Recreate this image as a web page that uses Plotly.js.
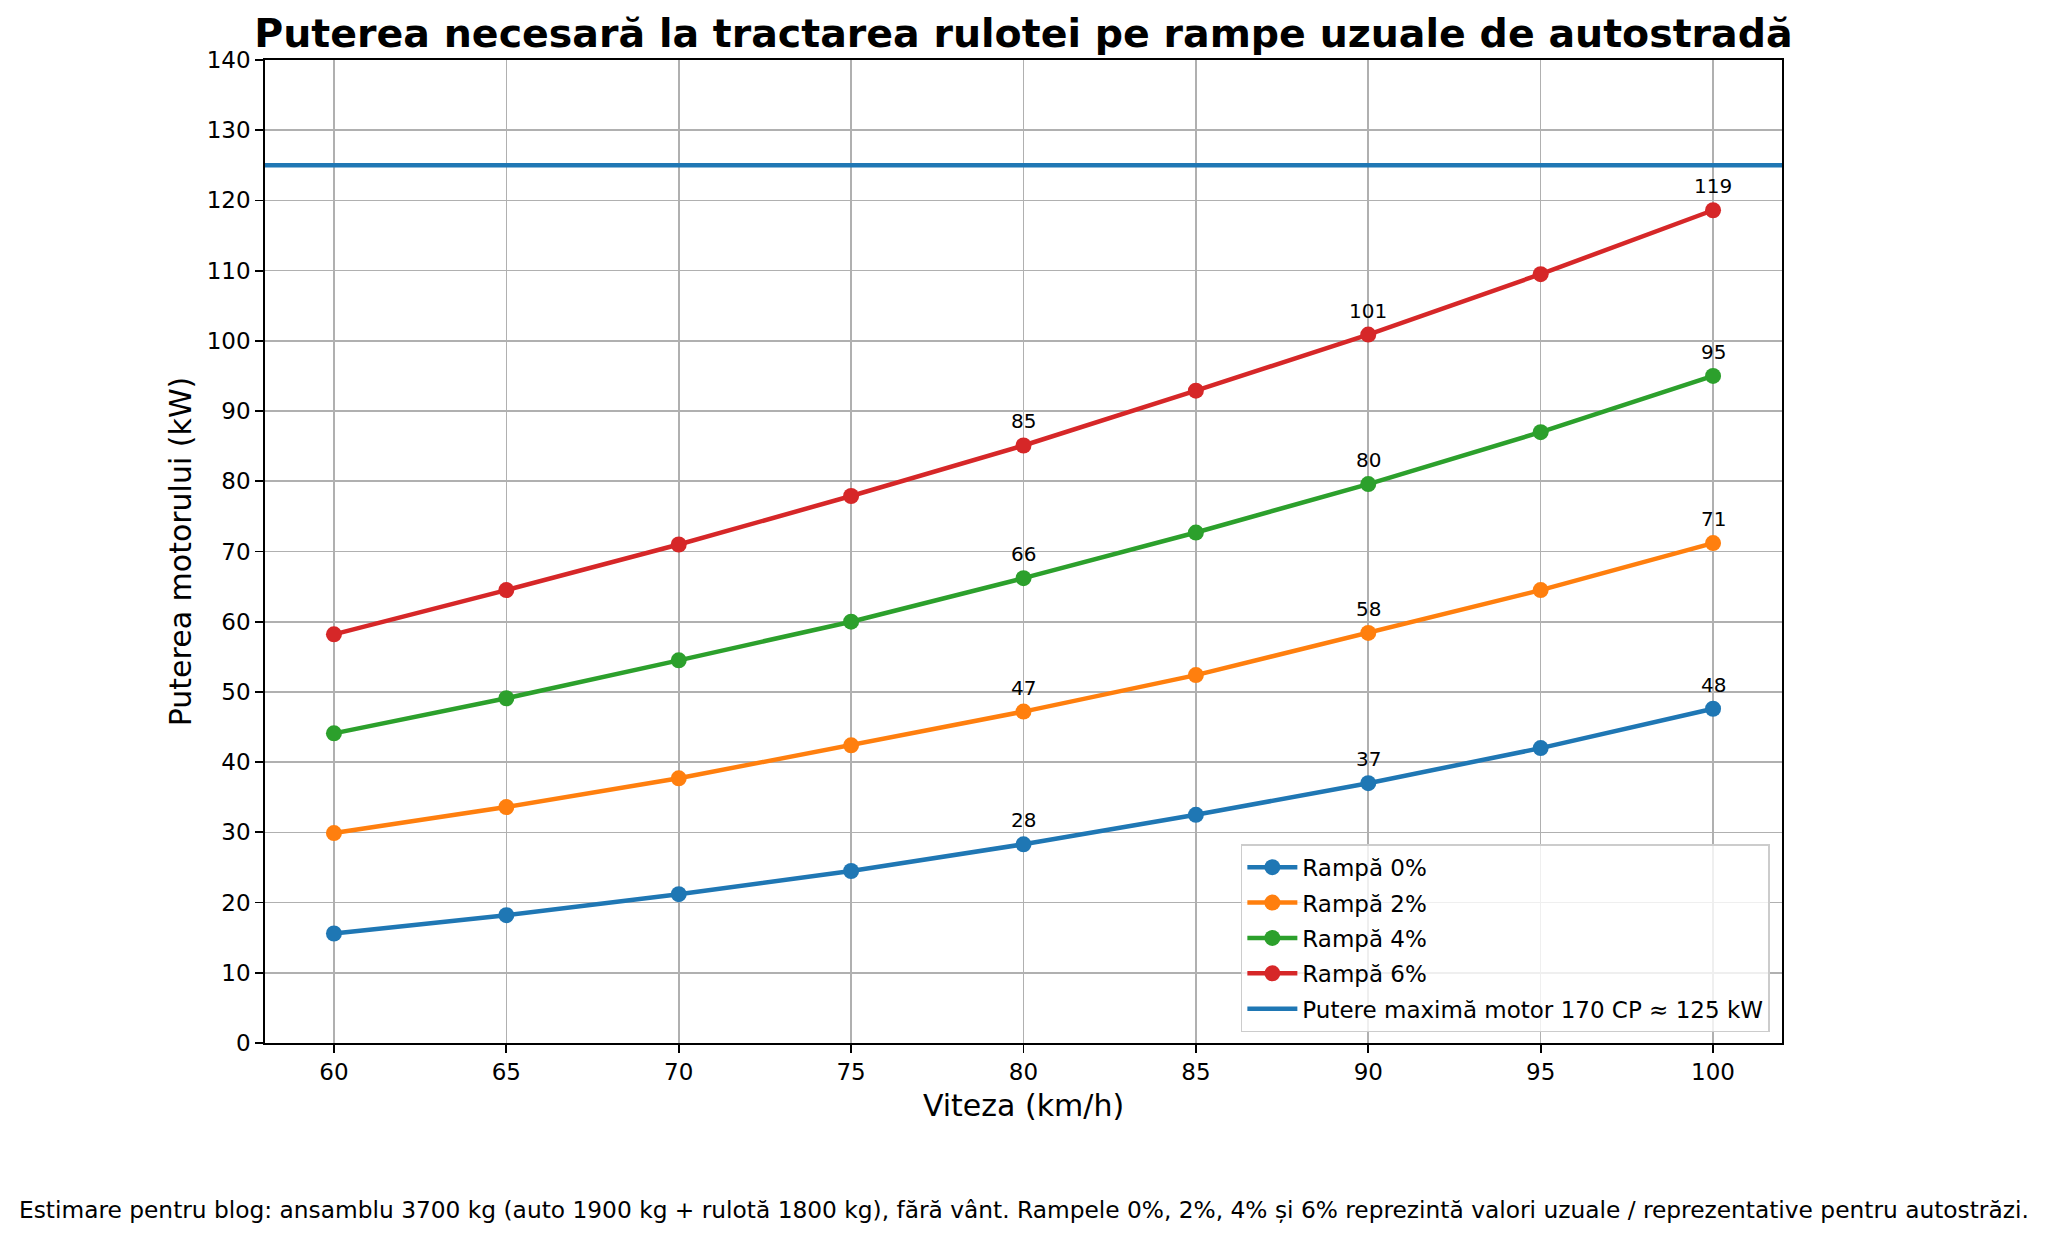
<!DOCTYPE html>
<html>
<head>
<meta charset="utf-8">
<script src="https://cdn.plot.ly/plotly-3.0.1.min.js"></script>
<style>html,body{margin:0;padding:0;background:#fff;}#chart{width:2048px;height:1242px;}</style>
</head>
<body>
<div id="chart"></div>
<script>
// ---- data ----
const speeds = [60, 65, 70, 75, 80, 85, 90, 95, 100];
const ramp0 = [15.6, 18.2, 21.2, 24.5, 28.3, 32.5, 37.0, 42.0, 47.6];
const ramp2 = [29.9, 33.6, 37.7, 42.4, 47.2, 52.4, 58.4, 64.5, 71.2];
const ramp4 = [44.1, 49.1, 54.5, 60.0, 66.2, 72.7, 79.6, 87.0, 95.0];
const ramp6 = [58.2, 64.5, 71.0, 77.9, 85.1, 92.9, 100.9, 109.5, 118.6];
const seriesNames = ["Rampă 0%", "Rampă 2%", "Rampă 4%", "Rampă 6%"];
const maxPowerKW = 125;
const maxPowerName = "Putere maximă motor 170 CP ≈ 125 kW";
const labeledSpeeds = [80, 90, 100];
const titleText = "Puterea necesară la tractarea rulotei pe rampe uzuale de autostradă";
const xTitle = "Viteza (km/h)";
const yTitle = "Puterea motorului (kW)";
const footerText = "Estimare pentru blog: ansamblu 3700 kg (auto 1900 kg + rulotă 1800 kg), fără vânt. Rampele 0%, 2%, 4% și 6% reprezintă valori uzuale / reprezentative pentru autostrăzi.";

// ---- styling ----
const colors = ["#1f77b4", "#ff7f0e", "#2ca02c", "#d62728"];
const FONT = "DejaVu Sans, Liberation Sans, sans-serif";
const allSeries = [ramp0, ramp2, ramp4, ramp6];

const traces = allSeries.map((vals, i) => ({
  type: "scatter",
  mode: "lines+markers",
  x: speeds,
  y: vals,
  name: seriesNames[i],
  legendgroup: "g" + i,
  line: {color: colors[i], width: 4.5},
  marker: {color: colors[i], size: 16}
}));

const annotations = [];
allSeries.forEach(vals => {
  speeds.forEach((s, j) => {
    if (labeledSpeeds.includes(s)) {
      annotations.push({
        x: s, y: vals[j], xref: "x", yref: "y",
        text: String(Math.round(vals[j])),
        showarrow: false, yanchor: "bottom", xanchor: "center",
        yshift: 10,
        font: {family: FONT, size: 20, color: "#000"}
      });
    }
  });
});
annotations.push({
  text: footerText, xref: "paper", yref: "paper", x: 0.5, y: -0.169,
  xanchor: "center", yanchor: "middle", showarrow: false,
  font: {family: FONT, size: 23.3, color: "#000"}
});

const axisCommon = {
  showline: true, mirror: true, linecolor: "#000", linewidth: 1.8,
  ticks: "outside", ticklen: 8, tickwidth: 1.8, tickcolor: "#000",
  showgrid: true, gridcolor: "#b0b0b0", gridwidth: 1.6,
  zeroline: false,
  tickfont: {family: FONT, size: 23, color: "#000"}
};

const layout = {
  width: 2048, height: 1242,
  paper_bgcolor: "#fff", plot_bgcolor: "#fff",
  margin: {l: 265, r: 266, t: 60, b: 199},
  font: {family: FONT, color: "#000"},
  title: {
    text: "<b>" + titleText + "</b>",
    font: {family: FONT, size: 39.5, color: "#000"},
    x: 0.5, xref: "paper", xanchor: "center",
    y: 1 - 33 / 1242, yref: "container", yanchor: "middle"
  },
  xaxis: Object.assign({}, axisCommon, {
    range: [58, 102], tickvals: speeds, ticktext: speeds.map(String),
    title: {text: xTitle, font: {family: FONT, size: 30, color: "#000"}, standoff: 10}
  }),
  yaxis: Object.assign({}, axisCommon, {
    range: [0, 140], dtick: 10, tick0: 0,
    title: {text: yTitle, font: {family: FONT, size: 30, color: "#000"}, standoff: 6}
  }),
  shapes: [{
    type: "line", xref: "paper", x0: 0, x1: 1, yref: "y", y0: maxPowerKW, y1: maxPowerKW,
    line: {color: "#1f77b4", width: 4.5},
    showlegend: true, name: maxPowerName, legendgroup: "g4", layer: "above"
  }],
  legend: {
    x: 0.992, y: 0.011, xanchor: "right", yanchor: "bottom",
    bgcolor: "rgba(255,255,255,0.8)", bordercolor: "#cccccc", borderwidth: 1.5,
    font: {family: FONT, size: 23, color: "#000"},
    tracegroupgap: 2.5, itemwidth: 50
  },
  annotations: annotations,
  showlegend: true
};

Plotly.newPlot("chart", traces, layout, {displayModeBar: false, staticPlot: true});
</script>
</body>
</html>
